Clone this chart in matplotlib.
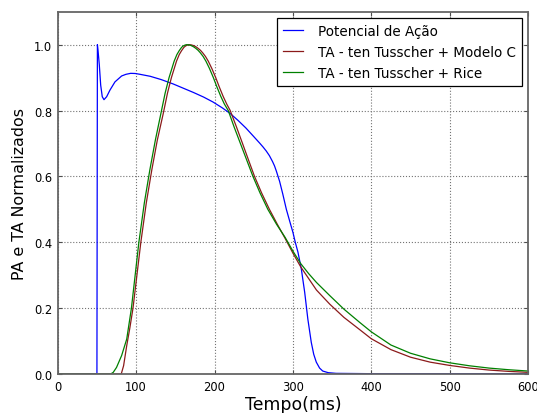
import matplotlib
matplotlib.use("Agg")
import matplotlib.pyplot as plt

# Potencial de ação (normalizado)
t_pa = [0, 50, 50.6, 51.3, 53, 54.8, 56.8, 59, 62.4, 66.6, 73, 81.5, 87, 93, 99,
        105, 118, 132, 147, 160, 173, 186, 198, 210, 220, 230, 240, 250, 258, 262,
        266, 270, 274, 276.5, 279, 283, 287, 291.6, 296, 300, 303, 306.4, 310.7,
        315, 319, 323.4, 326.5, 329.8, 334, 338, 345, 355, 400, 500, 600]
pa = [0, 0, 1.0, 0.985, 0.94, 0.877, 0.842, 0.833, 0.842, 0.862, 0.887, 0.905,
      0.910, 0.913, 0.9125, 0.910, 0.904, 0.894, 0.881, 0.868, 0.855, 0.841, 0.826,
      0.808, 0.791, 0.770, 0.747, 0.721, 0.700, 0.689, 0.677, 0.663, 0.645, 0.632,
      0.615, 0.585, 0.547, 0.50, 0.463, 0.43, 0.40, 0.37, 0.319, 0.248, 0.167,
      0.096, 0.06, 0.036, 0.018, 0.009, 0.004, 0.002, 0.001, 0.001, 0.001]

# Tensão ativa - ten Tusscher + Modelo C
t_mc = [0, 81, 84, 88, 92, 96, 101, 106, 113, 120, 127, 134.5, 140, 145, 151.5,
        155, 158, 161, 163, 165.5, 167.5, 170, 173, 176, 179, 182, 185, 188.5, 192,
        196.5, 201.5, 206, 211, 215.5, 220, 228, 236, 243, 251, 260, 270, 280, 290,
        300, 310, 320, 330, 347, 365, 385, 400, 425, 450, 475, 500, 525, 550, 575,
        600]
ta_mc = [0, 0, 0.025, 0.086, 0.14, 0.2, 0.3, 0.4, 0.52, 0.62, 0.71, 0.79, 0.853,
         0.90, 0.95, 0.97, 0.982, 0.992, 0.996, 0.999, 1.0, 0.9995, 0.9975, 0.994,
         0.989, 0.983, 0.975, 0.964, 0.95, 0.928, 0.90, 0.872, 0.843, 0.82, 0.80,
         0.75, 0.698, 0.652, 0.60, 0.55, 0.50, 0.455, 0.412, 0.367, 0.325, 0.29,
         0.255, 0.212, 0.172, 0.135, 0.107, 0.074, 0.051, 0.036, 0.026, 0.018,
         0.012, 0.008, 0.005]

# Tensão ativa - ten Tusscher + Rice
t_rice = [0, 67.5, 70.8, 75, 81.5, 88, 94, 103.5, 110.5, 117.5, 124.5, 131.5, 137,
          142, 148.5, 152, 155, 158, 160, 162.5, 164.5, 167, 170, 173, 176, 179,
          182, 185.5, 189, 193.5, 198.5, 203, 208, 212.5, 217.5, 225, 233, 241, 249,
          258, 268, 279, 290, 300, 310, 320, 330, 347, 365, 385, 400, 425, 450, 475,
          500, 525, 550, 575, 600]
ta_rice = [0, 0, 0.005, 0.02, 0.056, 0.106, 0.2, 0.4, 0.52, 0.62, 0.71, 0.79, 0.853,
           0.90, 0.95, 0.97, 0.982, 0.992, 0.996, 0.999, 1.0, 0.9995, 0.9975, 0.994,
           0.989, 0.983, 0.975, 0.964, 0.95, 0.928, 0.90, 0.872, 0.843, 0.82, 0.80,
           0.75, 0.70, 0.65, 0.60, 0.55, 0.50, 0.455, 0.415, 0.373, 0.335, 0.305,
           0.278, 0.238, 0.197, 0.157, 0.128, 0.088, 0.063, 0.046, 0.034, 0.025,
           0.018, 0.013, 0.009]

fig = plt.figure(figsize=(5.37, 4.14), dpi=100)
ax = fig.add_axes([0.1075, 0.0942, 0.876, 0.875])

ax.plot(t_pa, pa, color='#0000ff', lw=0.9, label=u'Potencial de Ação')
ax.plot(t_mc, ta_mc, color='#8b1a1a', lw=0.9, label='TA - ten Tusscher + Modelo C')
ax.plot(t_rice, ta_rice, color='#008000', lw=0.9, label='TA - ten Tusscher + Rice')

ax.set_xlim(0, 600)
ax.set_ylim(0, 1.1)
ax.set_xticks([0, 100, 200, 300, 400, 500, 600])
ax.set_yticks([0.0, 0.2, 0.4, 0.6, 0.8, 1.0])
ax.set_yticklabels(['0.0', '0.2', '0.4', '0.6', '0.8', '1.0'])

ax.grid(True, color='0.45', linestyle=':', linewidth=0.8)
ax.tick_params(direction='in', top=True, right=True, length=3, width=0.8,
               labelsize=8.3, pad=4, color='0.3')
for sp in ax.spines.values():
    sp.set_color('0.4')
    sp.set_linewidth(1.3)

ax.set_xlabel('Tempo(ms)', fontsize=12.4, labelpad=2)
ax.set_ylabel('PA e TA Normalizados', fontsize=11.4, labelpad=5)

leg = ax.legend(loc='upper right', fontsize=9.75, handlelength=1.5,
                handletextpad=1.1, borderpad=0.42, labelspacing=0.52,
                borderaxespad=0.47, fancybox=False, framealpha=1)
leg.get_frame().set_edgecolor('black')
leg.get_frame().set_linewidth(0.9)

fig.savefig('out.png', dpi=100, facecolor='white')
